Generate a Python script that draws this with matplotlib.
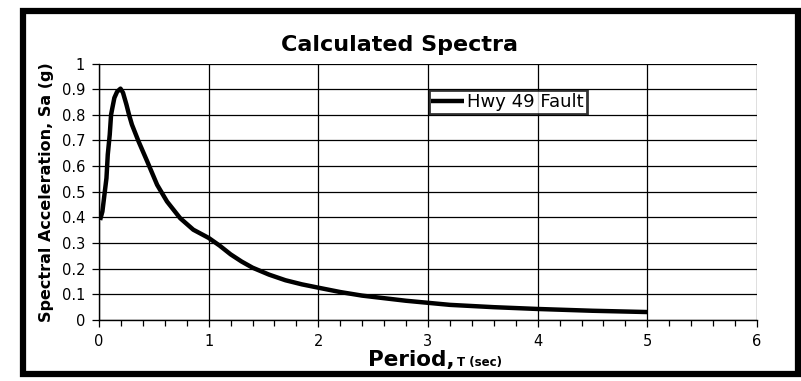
import numpy as np
import matplotlib.pyplot as plt
from matplotlib.patches import Rectangle
from matplotlib.ticker import MultipleLocator

plt.rcParams['font.family'] = ['Liberation Sans Narrow', 'DejaVu Sans']

# response spectrum, period (sec) vs spectral acceleration (g)
period = [0.01, 0.031, 0.05, 0.068, 0.08, 0.098, 0.11, 0.122, 0.14, 0.165,
          0.196, 0.219, 0.25, 0.274, 0.3, 0.36, 0.44, 0.53, 0.62, 0.74, 0.86,
          1.0, 1.1, 1.2, 1.3, 1.4, 1.55, 1.7, 1.85, 2.0, 2.2, 2.4, 2.8, 3.2,
          3.6, 4.0, 4.5, 5.0]
sa = [0.39, 0.423, 0.49, 0.553, 0.645, 0.723, 0.80, 0.827, 0.866, 0.89,
      0.902, 0.886, 0.84, 0.80, 0.762, 0.697, 0.618, 0.527, 0.462, 0.397, 0.352,
      0.32, 0.29, 0.256, 0.228, 0.204, 0.177, 0.155, 0.139, 0.126, 0.109, 0.095,
      0.075, 0.059, 0.05, 0.043, 0.036, 0.031]
series_name = 'Hwy 49 Fault'
ytick_labels = ['0', '0.1', '0.2', '0.3', '0.4', '0.5', '0.6', '0.7', '0.8', '0.9', '1']

fig = plt.figure(figsize=(8.01, 3.81), dpi=100)
ax = fig.add_axes([99 / 801, 1 - 320 / 381, 658 / 801, 256.5 / 381])

ax.plot(period, sa, color='black', lw=3.2, label=series_name,
        solid_joinstyle='round', solid_capstyle='butt')

ax.set_xlim(0, 6)
ax.set_ylim(0, 1)
ax.xaxis.set_major_locator(MultipleLocator(1))
ax.xaxis.set_minor_locator(MultipleLocator(0.2))
ax.yaxis.set_ticks(np.arange(0, 1.01, 0.1))
ax.set_yticklabels(ytick_labels)

ax.grid(True, which='major', color='black', lw=0.9)
ax.tick_params(which='both', direction='out', color='black', width=0.9)
ax.tick_params(which='major', length=5, labelsize=10.5, pad=5)
ax.tick_params(which='minor', length=4)
for s in ['top', 'right']:
    ax.spines[s].set_visible(False)
for s in ['left', 'bottom']:
    ax.spines[s].set_linewidth(1.0)

fig.text(0.499, 1 - 45 / 381, 'Calculated Spectra', ha='center', va='center',
         fontsize=16, fontweight='bold')
fig.text(47 / 801, 1 - 192 / 381, 'Spectral Acceleration, Sa (g)', rotation=90,
         ha='center', va='center', fontsize=11.5, fontweight='bold', family='DejaVu Sans')
fig.text(455 / 801, 1 - 366 / 381, 'Period,', ha='right', va='baseline',
         fontsize=15.5, fontweight='bold')
fig.text(457 / 801, 1 - 366 / 381, 'T (sec)', ha='left', va='baseline',
         fontsize=8.5, fontweight='bold')

leg = ax.legend(loc='upper left', bbox_to_anchor=(0.501, 0.895), frameon=True,
                fancybox=False, edgecolor='black', fontsize=13, handlelength=1.8,
                handletextpad=0.2, borderpad=0.15, borderaxespad=0)
leg.get_frame().set_linewidth(2)

# outer chart border
fig.patches.append(Rectangle((23 / 801, 1 - 374 / 381), 774.5 / 801, 363 / 381,
                             transform=fig.transFigure, fill=False,
                             edgecolor='black', lw=4.5))

fig.savefig('out.png', dpi=100)
